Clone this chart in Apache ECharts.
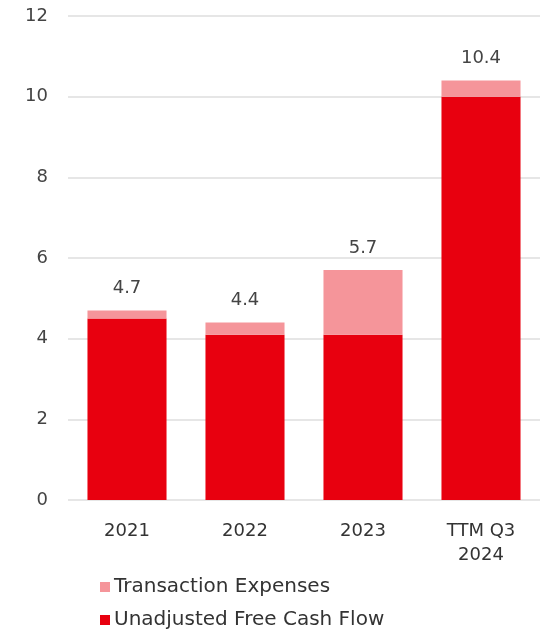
<!DOCTYPE html>
<html>
<head>
<meta charset="utf-8">
<script src="https://cdn.jsdelivr.net/npm/echarts@6/dist/echarts.min.js"></script>
<style>
  html, body { margin: 0; padding: 0; background: #fff; }
  #chart { width: 547px; height: 636px; }
</style>
</head>
<body>
<div id="chart"></div>
<script>
// Free cash flow by period, split into unadjusted FCF and transaction expenses
const categories = ['2021', '2022', '2023', 'TTM Q3\n2024'];
const unadjustedFcf = [4.5, 4.1, 4.1, 10.0];
const transactionExpenses = [0.2, 0.3, 1.6, 0.4];
const yTicks = { min: 0, max: 12, interval: 2 };

const FONT = '"DejaVu Sans", "Noto Sans", sans-serif';
const RED = '#e8000f';
const PINK = '#f5959a';

const chart = echarts.init(document.getElementById('chart'), null, { renderer: 'canvas' });

chart.setOption({
  animation: false,
  backgroundColor: '#fff',
  grid: { left: 68, right: 7, top: 16, bottom: 136, containLabel: false },
  legend: {
    orient: 'vertical',
    left: 100,
    top: 577,
    padding: 0,
    height: 59,
    itemWidth: 10,
    itemHeight: 10,
    itemGap: 13,
    icon: 'rect',
    data: ['Transaction Expenses', 'Unadjusted Free Cash Flow'],
    textStyle: { fontFamily: FONT, fontSize: 20, color: '#333', padding: [0, 0, 0, -1] }
  },
  xAxis: {
    type: 'category',
    data: categories,
    axisLine: { show: false },
    axisTick: { show: false },
    axisLabel: {
      fontFamily: FONT, fontSize: 18, color: '#333',
      margin: 19, lineHeight: 24
    }
  },
  yAxis: {
    type: 'value',
    min: yTicks.min,
    max: yTicks.max,
    interval: yTicks.interval,
    axisLine: { show: false },
    axisTick: { show: false },
    splitLine: { lineStyle: { color: '#dedede', width: 1.5 } },
    axisLabel: { fontFamily: FONT, fontSize: 18, color: '#444', margin: 20 }
  },
  series: [
    {
      name: 'Unadjusted Free Cash Flow',
      type: 'bar',
      stack: 'fcf',
      barWidth: '67%',
      itemStyle: { color: RED },
      data: unadjustedFcf
    },
    {
      name: 'Transaction Expenses',
      type: 'bar',
      stack: 'fcf',
      barWidth: '67%',
      itemStyle: { color: PINK },
      data: transactionExpenses,
      label: {
        show: true,
        position: 'top',
        distance: 13,
        fontFamily: FONT,
        fontSize: 18,
        color: '#444',
        formatter: p => (unadjustedFcf[p.dataIndex] + transactionExpenses[p.dataIndex]).toFixed(1)
      }
    }
  ]
});
</script>
</body>
</html>
